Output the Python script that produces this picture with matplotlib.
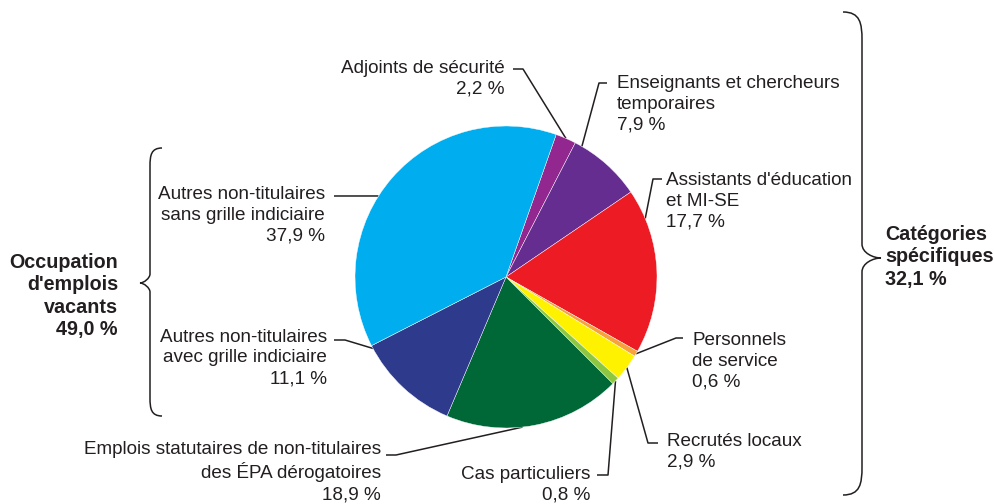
import matplotlib
matplotlib.use("Agg")
import matplotlib.pyplot as plt
import numpy as np
from matplotlib.path import Path
from matplotlib.patches import PathPatch

W, H = 995, 504

# slices, clockwise from the top
names = [
    "Adjoints de sécurité",
    "Enseignants et chercheurs\ntemporaires",
    "Assistants d'éducation\net MI-SE",
    "Personnels\nde service",
    "Recrutés locaux",
    "Cas particuliers",
    "Emplois statutaires de non-titulaires\ndes ÉPA dérogatoires",
    "Autres non-titulaires\navec grille indiciaire",
    "Autres non-titulaires\nsans grille indiciaire",
]
shares = [2.2, 7.9, 17.7, 0.6, 2.9, 0.8, 18.9, 11.1, 37.9]
colors = ["#92278F", "#662D91", "#ED1C24", "#F7A23A", "#FFF200",
          "#8DC63F", "#006837", "#2E3A8C", "#00AEEF"]

group_names = ["Occupation\nd'emplois\nvacants", "Catégories\nspécifiques"]
group_shares = [49.0, 32.1]

# pie geometry (pixels, y from top)
CX, CY, R = 506, 277, 151
START = 70.6

# label layout: x, y centre of block, ha, elbow points, anchor fraction in wedge
layout = [
    (505, 79, "right", [(513, 69), (523, 69)], 0.5),
    (617, 104, "left", [(607, 83), (599, 83)], 0.1),
    (666, 201, "left", [(662, 179), (653, 179)], 0.18),
    (692, 361, "left", [(683, 338), (676, 338)], 0.5),
    (667, 452, "left", [(658, 443), (648, 443)], 0.5),
    (590, 485, "right", [(597, 475), (608, 475)], 0.5),
    (381, 472, "right", [(386, 455), (396, 455)], 0.57),
    (327, 358, "right", [(334, 340), (345, 340)], 0.97),
    (325, 215, "right", [(334, 196)], 0.436),
]

TXT = "#231F20"
plt.rcParams["font.family"] = ["Liberation Sans", "DejaVu Sans"]


def pct(v):
    return f"{v:.1f}".replace(".", ",") + " %"


fig = plt.figure(figsize=(W / 100, H / 100), dpi=100)
ax = fig.add_axes([0, 0, 1, 1])
wedges, _ = ax.pie(shares, colors=colors, startangle=START, counterclock=False,
                   center=(CX, H - CY), radius=R,
                   wedgeprops=dict(edgecolor="white", linewidth=0.3))
ax.set_xlim(0, W)
ax.set_ylim(0, H)
ax.axis("off")

for name, v, w, (tx, ty, ha, elbow, frac) in zip(names, shares, wedges, layout):
    ax.text(tx, H - ty, name + "\n" + pct(v), ha=ha, va="center",
            multialignment=ha, fontsize=13.6, color=TXT, linespacing=1.3)
    ang = np.deg2rad(w.theta2 - frac * (w.theta2 - w.theta1))
    ax_x = CX + R * np.cos(ang)
    ax_y = (H - CY) + R * np.sin(ang)
    xs = [p[0] for p in elbow] + [ax_x]
    ys = [H - p[1] for p in elbow] + [ax_y]
    ax.plot(xs, ys, color=TXT, lw=1.1, zorder=0.5, solid_capstyle="butt")


def brace(xe, xs, xt, yt, ytip, yb, c):
    pts = [(xe, yt), (xs + (xe - xs) * 0.1, yt), (xs, yt + c * 0.4), (xs, yt + c),
           (xs, ytip - c * 0.5),
           (xs, ytip - 5), (xt + (xs - xt) * 0.4, ytip), (xt, ytip),
           (xt + (xs - xt) * 0.4, ytip), (xs, ytip + 5), (xs, ytip + c * 0.5),
           (xs, yb - c),
           (xs, yb - c * 0.4), (xs + (xe - xs) * 0.1, yb), (xe, yb)]
    codes = [Path.MOVETO, Path.CURVE4, Path.CURVE4, Path.CURVE4, Path.LINETO,
             Path.CURVE4, Path.CURVE4, Path.CURVE4,
             Path.CURVE4, Path.CURVE4, Path.CURVE4, Path.LINETO,
             Path.CURVE4, Path.CURVE4, Path.CURVE4]
    verts = [(x, H - y) for x, y in pts]
    ax.add_patch(PathPatch(Path(verts, codes), fill=False, ec=TXT, lw=1.1))


brace(162, 150, 140, 148, 283, 416, 18)
brace(843, 862, 881, 12, 258, 495, 28)

ax.text(118, H - 296, group_names[0] + "\n" + pct(group_shares[0]), ha="right",
        va="center", multialignment="right", fontsize=14.2, fontweight="bold",
        color=TXT, linespacing=1.24)
ax.text(885, H - 257, group_names[1] + "\n" + pct(group_shares[1]), ha="left",
        va="center", multialignment="left", fontsize=14.2, fontweight="bold",
        color=TXT, linespacing=1.24)

fig.savefig("out.png", dpi=100)
